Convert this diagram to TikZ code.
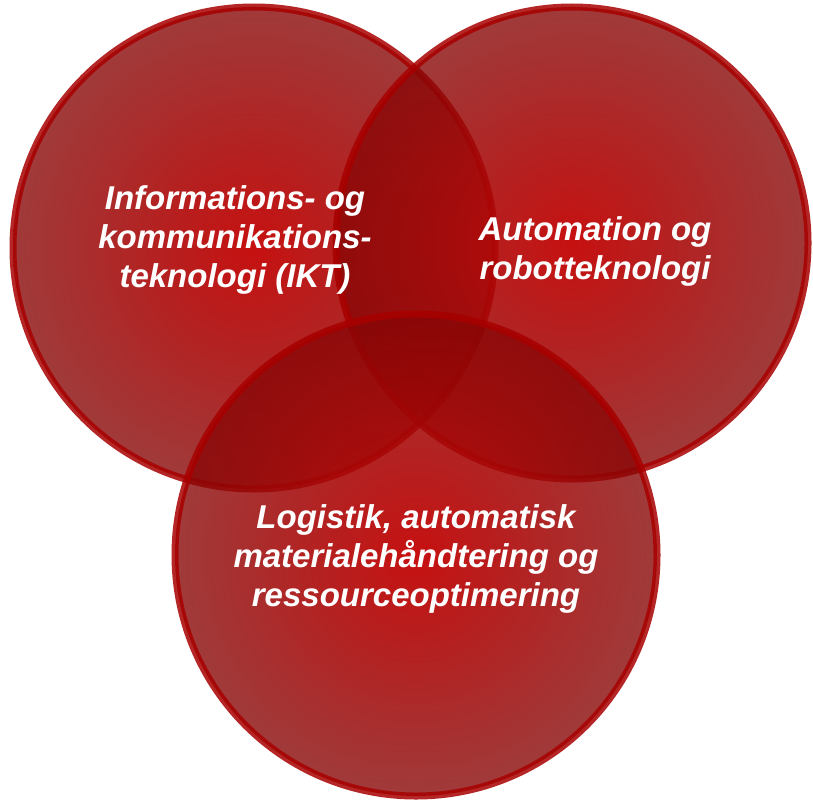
\documentclass[tikz,border=0pt]{standalone}
\usepackage{fontspec}
\setmainfont{Liberation Sans}
\usepackage{xcolor}
\usepackage{tikz}
\usetikzlibrary{calc,fadings}

\definecolor{kant}{RGB}{168,0,0}
\definecolor{kerne}{RGB}{196,6,6}
\definecolor{rand}{RGB}{135,6,6}

\tikzfading[name=cirkelfade, inner color=transparent!4, outer color=transparent!21]

\tikzset{
  cirkel/.style={inner color=kerne,outer color=rand,path fading=cirkelfade},
  ring/.style={draw=kant,line width=7pt,draw opacity=0.85},
  felt/.style={text=white,font=\fontsize{33}{39}\selectfont\bfseries\itshape,align=center}
}

\begin{document}
\begin{tikzpicture}[x=1pt,y=-1pt]

\useasboundingbox (0,0) rectangle (813,800);							% Rammen

\coordinate (ikt) at (254,248);										% Centrum venstre
\coordinate (robot) at (572,243);									% Centrum hoejre
\coordinate (logistik) at (416,555);								% Centrum nederst

\shade[cirkel] (ikt) circle (241);									% Cirkel IKT
\draw[ring] (ikt) circle (241);
\shade[cirkel] (robot) circle (236);								% Cirkel automation
\draw[ring] (robot) circle (236);
\shade[cirkel] (logistik) circle (241);								% Cirkel logistik
\draw[ring] (logistik) circle (241);

\node[felt] (iktfelt) at (235,240) {Informations- og\\kommunikations-\\teknologi (IKT)};		% Tekst venstre
\node[felt] (robotfelt) at (595,251) {Automation og\\robotteknologi};							% Tekst hoejre
\node[felt] (logistikfelt) at (416,559) {Logistik, automatisk\\materialehåndtering og\\ressourceoptimering};	% Tekst nederst

\end{tikzpicture}
\end{document}
